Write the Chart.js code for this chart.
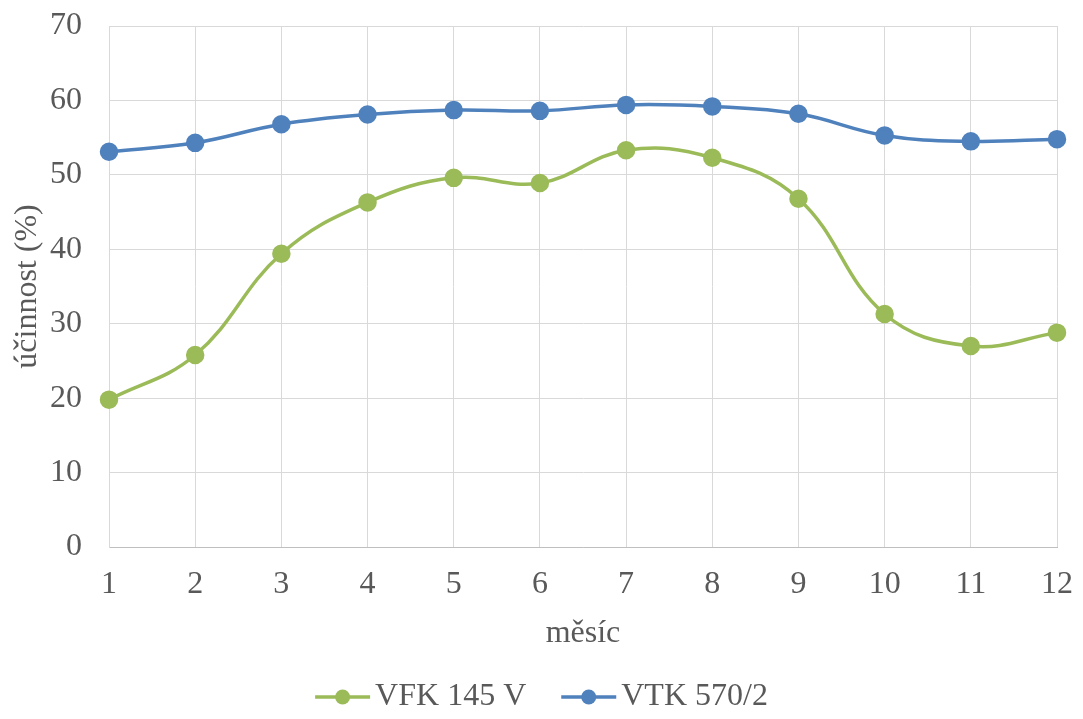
<!DOCTYPE html>
<html>
<head>
<meta charset="utf-8">
<script src="https://cdn.jsdelivr.net/npm/chart.js"></script>
<style>
    html, body { margin: 0; padding: 0; background: #fff; }
    #wrap { width: 1083px; height: 719px; }
</style>
</head>
<body>
<div id="wrap">
    <canvas id="lineChart" width="1083" height="719"></canvas>
</div>

<script>
    const months = ['1', '2', '3', '4', '5', '6', '7', '8', '9', '10', '11', '12'];
    const vfk = [19.8, 25.8, 39.4, 46.3, 49.6, 48.9, 53.3, 52.3, 46.8, 31.3, 27.0, 28.8];
    const vtk = [53.1, 54.3, 56.8, 58.1, 58.7, 58.6, 59.4, 59.2, 58.2, 55.3, 54.5, 54.8];
    const yTicks = [0, 10, 20, 30, 40, 50, 60, 70];

    const green = '#9BBB59';
    const blue = '#4F81BD';
    const textColor = '#595959';
    const gridColor = '#D9D9D9';
    const fontFamily = '"Liberation Serif", "Times New Roman", serif';

    Chart.defaults.font.family = fontFamily;
    Chart.defaults.font.size = 32;
    Chart.defaults.color = textColor;

    // legend drawn by hand: line with dot, then the label, centred under the chart
    const lineLegend = {
        id: 'lineLegend',
        afterDraw(chart) {
            const c = chart.ctx;
            const y = 697;
            const mark = 55, gapText = 5, gapItem = 35;
            c.save();
            c.font = '32px ' + fontFamily;
            const items = chart.data.datasets.map(ds => ({
                text: ds.label, color: ds.borderColor, w: c.measureText(ds.label).width
            }));
            let total = items.reduce((a, it) => a + mark + gapText + it.w, 0) + gapItem * (items.length - 1);
            let x = chart.width / 2 - total / 2;
            items.forEach(it => {
                c.strokeStyle = it.color;
                c.lineWidth = 3.5;
                c.beginPath();
                c.moveTo(x, y);
                c.lineTo(x + mark, y);
                c.stroke();
                c.fillStyle = it.color;
                c.beginPath();
                c.arc(x + mark / 2, y, 7.5, 0, Math.PI * 2);
                c.fill();
                x += mark + gapText;
                c.fillStyle = textColor;
                c.textBaseline = 'middle';
                c.textAlign = 'left';
                c.fillText(it.text, x, y);
                x += it.w + gapItem;
            });
            c.restore();
        }
    };

    const ctx = document.getElementById('lineChart').getContext('2d');

    new Chart(ctx, {
        type: 'line',
        data: {
            labels: months,
            datasets: [{
                label: 'VFK 145 V',
                data: vfk,
                borderColor: green,
                backgroundColor: green,
                borderWidth: 3.5,
                pointRadius: 7.5,
                pointHoverRadius: 7.5,
                tension: 0.4
            }, {
                label: 'VTK 570/2',
                data: vtk,
                borderColor: blue,
                backgroundColor: blue,
                borderWidth: 3.5,
                pointRadius: 7.5,
                pointHoverRadius: 7.5,
                tension: 0.4
            }]
        },
        options: {
            responsive: false,
            animation: false,
            layout: {
                padding: { top: 26, right: 26, left: 0, bottom: 0 }
            },
            plugins: {
                tooltip: { enabled: false },
                legend: { display: false }
            },
            scales: {
                x: {
                    offset: false,
                    grid: { color: gridColor, drawTicks: false },
                    border: { color: '#BFBFBF', width: 1 },
                    ticks: { padding: 18, color: textColor, maxRotation: 0 },
                    title: {
                        display: true,
                        text: 'měsíc',
                        color: textColor,
                        padding: { top: 0, bottom: 66 }
                    },
                    afterFit: s => {
                        s.height = 172;
                        s.paddingLeft = 0;
                        s.paddingRight = 0;
                    }
                },
                y: {
                    min: 0,
                    max: 70,
                    afterBuildTicks: s => { s.ticks = yTicks.map(v => ({ value: v })); },
                    grid: { color: gridColor, drawTicks: false },
                    border: { color: gridColor, width: 1 },
                    ticks: { padding: 27, color: textColor },
                    title: {
                        display: true,
                        text: 'účinnost (%)',
                        color: textColor,
                        padding: { top: 8, bottom: 0 }
                    },
                    afterFit: s => {
                        s.width = 109;
                        s.paddingTop = 0;
                        s.paddingBottom = 0;
                    }
                }
            }
        },
        plugins: [lineLegend]
    });
</script>
</body>
</html>
